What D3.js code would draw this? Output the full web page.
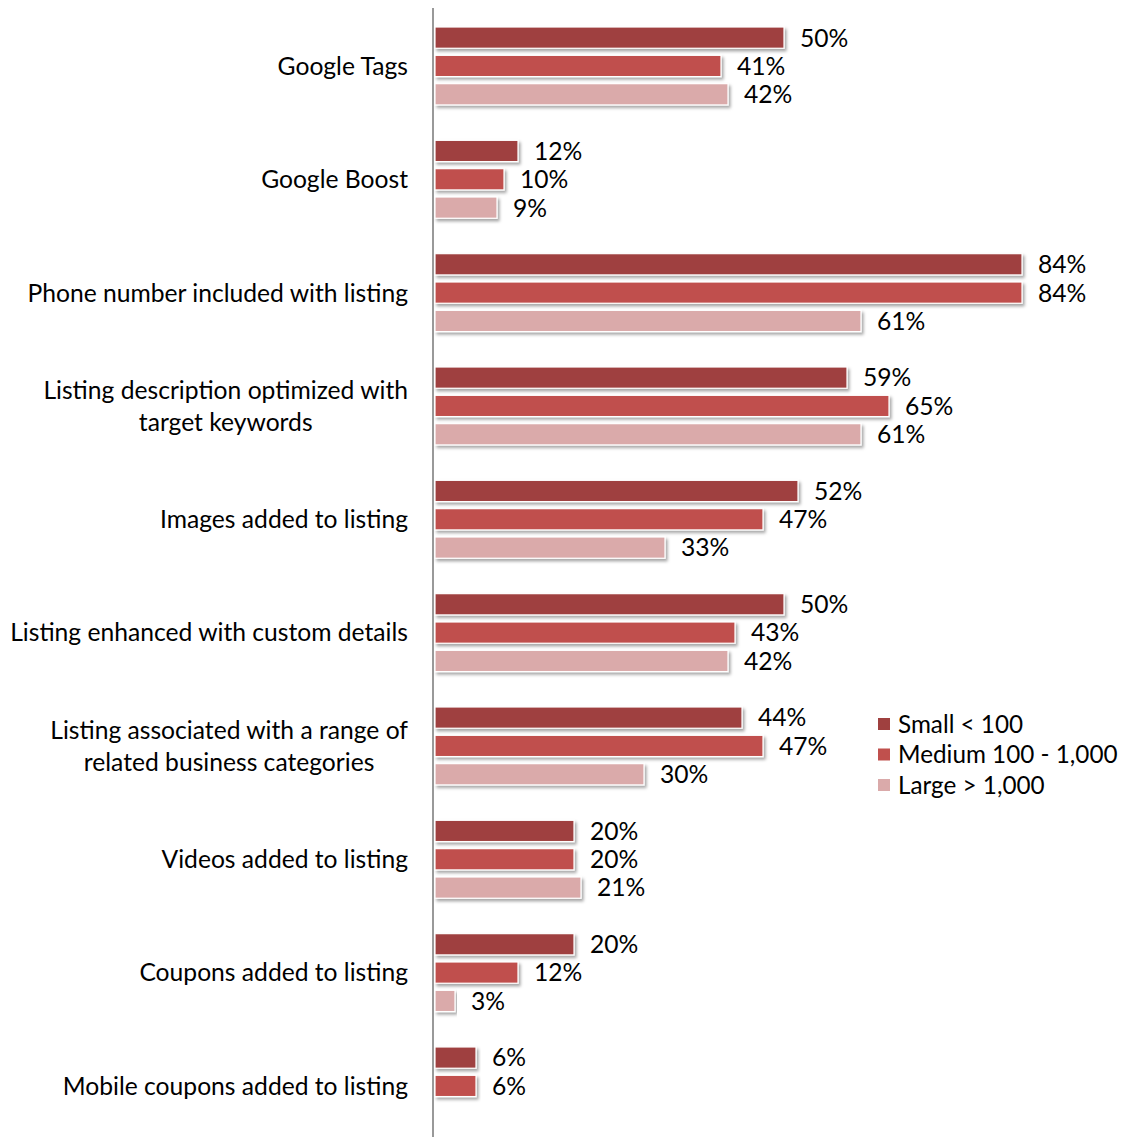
<!DOCTYPE html>
<html>
<head>
<meta charset="utf-8">
<script src="https://cdn.jsdelivr.net/npm/d3@7"></script>
<style>
  html, body { margin: 0; padding: 0; background: #fff; }
  svg { display: block; }
  text { font-family: Lato, "Open Sans", sans-serif; fill: #000; }
</style>
</head>
<body>
<svg id="chart" width="1122" height="1137"></svg>
<script>
const categories = [
  ["Google Tags"],
  ["Google Boost"],
  ["Phone number included with listing"],
  ["Listing description optimized with", "target keywords"],
  ["Images added to listing"],
  ["Listing enhanced with custom details"],
  ["Listing associated with a range of", "related business categories"],
  ["Videos added to listing"],
  ["Coupons added to listing"],
  ["Mobile coupons added to listing"]
];
const seriesNames = ["Small < 100", "Medium 100 - 1,000", "Large > 1,000"];
const small  = [50, 12, 84, 59, 52, 50, 44, 20, 20, 6];
const medium = [41, 10, 84, 65, 47, 43, 47, 20, 12, 6];
const large  = [42,  9, 61, 61, 33, 42, 30, 21,  3, null];
const colors = ["#9F403F", "#C0504D", "#DAAAAA"];

const seriesValues = [small, medium, large];
const catKeys = categories.map(c => c.join(" "));

const svg = d3.select("#chart");
const defs = svg.append("defs");
const f = defs.append("filter").attr("id", "shadow")
  .attr("x", "-5%").attr("y", "-30%").attr("width", "115%").attr("height", "180%");
f.append("feDropShadow").attr("dx", 2).attr("dy", 2.5).attr("stdDeviation", 1.6)
  .attr("flood-color", "#000").attr("flood-opacity", 0.35);

const x = d3.scaleLinear().domain([0, 100]).range([434, 1134]);
const y0 = d3.scaleBand().domain(catKeys).range([9.3, 1142.6])
  .paddingInner(0.25).paddingOuter(0.125);
const y1 = d3.scaleBand().domain(seriesNames).range([0, y0.bandwidth()])
  .paddingInner(0.25).paddingOuter(0.125);

// font size fitting: match Calibri label width
const probe = svg.append("text").style("font-size", "22px").text("Listing enhanced with custom details");
const w = probe.node().getComputedTextLength();
probe.remove();
const fs = 22 * 398 / w;

// bars
const rows = [];
catKeys.forEach((k, i) => {
  seriesNames.forEach((s, j) => {
    const v = seriesValues[j][i];
    if (v != null) rows.push({ cat: k, series: s, v, j });
  });
});

svg.append("g").selectAll("rect").data(rows).join("rect")
  .attr("x", x(0) + 1)
  .attr("y", d => y0(d.cat) + y1(d.series))
  .attr("width", d => x(d.v) - x(0) - 1)
  .attr("height", y1.bandwidth())
  .attr("fill", d => colors[d.j])
  .attr("stroke", "#fff").attr("stroke-width", 1.2)
  .attr("filter", "url(#shadow)");

svg.append("g").selectAll("text").data(rows).join("text")
  .attr("x", d => x(d.v) + 16)
  .attr("y", d => y0(d.cat) + y1(d.series) + y1.bandwidth() / 2)
  .attr("dy", "0.36em")
  .style("font-size", fs + "px")
  .text(d => d.v + "%");

// axis line
const yAxis = d3.axisLeft(y0).tickSize(0).tickFormat("");
const ag = svg.append("g").attr("transform", `translate(${x(0) - 1},0)`).call(yAxis);
ag.select(".domain").attr("stroke", "#999").attr("stroke-width", 2)
  .attr("d", "M0,8V1137");

// category labels
const labelG = svg.append("g");
categories.forEach((lines, i) => {
  const k = catKeys[i];
  const cy = y0(k) + y0.bandwidth() / 2;
  const lh = 32;
  if (lines.length === 1) {
    labelG.append("text").attr("x", 408).attr("y", cy).attr("dy", "0.36em")
      .attr("text-anchor", "end").style("font-size", fs + "px").text(lines[0]);
  } else {
    const t = labelG.append("text").style("font-size", fs + "px").attr("text-anchor", "middle");
    const tmp = labelG.append("text").style("font-size", fs + "px").text(lines[0]);
    const maxW = d3.max(lines, l => { tmp.text(l); return tmp.node().getComputedTextLength(); });
    tmp.remove();
    const cx = 408 - maxW / 2;
    lines.forEach((l, li) => {
      t.append("tspan").attr("x", cx)
        .attr("y", cy + (li - (lines.length - 1) / 2) * lh)
        .attr("dy", "0.36em").text(l);
    });
  }
});

// legend
const lg = svg.append("g").attr("transform", "translate(878,724)");
seriesNames.forEach((s, j) => {
  const g = lg.append("g").attr("transform", `translate(0,${j * 30.5})`);
  g.append("rect").attr("x", 0).attr("y", -6).attr("width", 12).attr("height", 12).attr("fill", colors[j]);
  g.append("text").attr("x", 20).attr("y", 0).attr("dy", "0.36em").style("font-size", (fs * 0.985) + "px").text(s);
});
</script>
</body>
</html>
